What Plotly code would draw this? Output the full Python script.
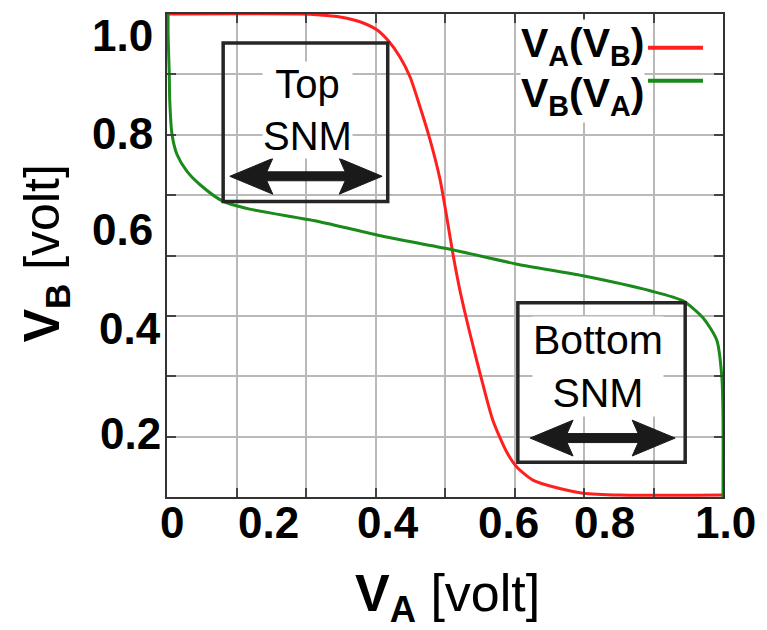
import plotly.graph_objects as go

# Butterfly curve of an SRAM cell: two cross-coupled inverter transfer curves
# Red: V_A as a function of V_B
vb_red = [1.000, 1.000, 0.998, 0.994, 0.984, 0.967, 0.946, 0.911, 0.870, 0.808, 0.740,
          0.658, 0.567, 0.505, 0.427, 0.338, 0.256, 0.159, 0.091, 0.062, 0.035, 0.019,
          0.008, 0.004, 0.004]
va_red = [0.000, 0.239, 0.275, 0.311, 0.347, 0.378, 0.397, 0.419, 0.437, 0.455, 0.473,
          0.491, 0.505, 0.514, 0.527, 0.545, 0.563, 0.586, 0.612, 0.629, 0.658, 0.701,
          0.748, 0.815, 1.000]

# Green: V_B as a function of V_A
va_green = [0.002, 0.002, 0.004, 0.005, 0.009, 0.018, 0.036, 0.059, 0.101, 0.149, 0.270,
            0.388, 0.509, 0.630, 0.748, 0.869, 0.928, 0.964, 0.989, 0.998, 1.000, 1.000]
vb_green = [1.000, 0.957, 0.880, 0.819, 0.751, 0.709, 0.674, 0.647, 0.612, 0.596, 0.571,
            0.540, 0.513, 0.482, 0.458, 0.427, 0.406, 0.371, 0.324, 0.247, 0.165, 0.000]

x_tick_text = ["0", "0.2", "0.4", "0.6", "0.8", "1.0"]
y_tick_text = ["1.0", "0.8", "0.6", "0.4", "0.2"]

# label placement (paper units)
x_tick_pos = [0.009, 0.183, 0.398, 0.614, 0.786, 1.005]
y_tick_pos = [0.955, 0.753, 0.553, 0.348, 0.132]
y_tick_right = [-0.022, -0.022, -0.022, -0.008, -0.008]

RED = "#ff1f1f"
GREEN = "#1a8a1a"
DARK = "#262626"
FONT = "Liberation Sans, Arial, sans-serif"

fig = go.Figure()
fig.add_trace(go.Scatter(x=va_red, y=vb_red, mode="lines", name="V_A(V_B)",
                         line=dict(color=RED, width=3, shape="spline", smoothing=0.7)))
fig.add_trace(go.Scatter(x=va_green, y=vb_green, mode="lines", name="V_B(V_A)",
                         line=dict(color=GREEN, width=3, shape="spline", smoothing=0.7)))

axis_common = dict(range=[0, 1], tick0=0, dtick=0.125, showgrid=True,
                   gridcolor="#b9b9b9", gridwidth=1.5, zeroline=False,
                   showline=True, linecolor="#333333", linewidth=2, mirror="ticks",
                   ticks="inside", ticklen=9, tickwidth=1.5, tickcolor="#444444",
                   showticklabels=False, fixedrange=True)

fig.update_layout(width=767, height=630, margin=dict(l=167, r=44, t=12, b=133),
                  paper_bgcolor="white", plot_bgcolor="white", showlegend=False,
                  xaxis=axis_common, yaxis=axis_common)

shapes = []
annotations = []

# tick labels
for txt, xp in zip(x_tick_text, x_tick_pos):
    annotations.append(dict(x=xp, y=-0.053, xref="paper", yref="paper", text=f"<b>{txt}</b>",
                            showarrow=False, xanchor="center", yanchor="middle",
                            font=dict(family=FONT, size=44, color="black")))
for txt, yp, xr in zip(y_tick_text, y_tick_pos, y_tick_right):
    annotations.append(dict(x=xr, y=yp, xref="paper", yref="paper", text=f"<b>{txt}</b>",
                            showarrow=False, xanchor="right", yanchor="middle",
                            font=dict(family=FONT, size=44, color="black")))

# axis titles
annotations.append(dict(x=0.505, y=-0.207, xref="paper", yref="paper",
                        text="<b>V<sub>A</sub></b> [volt]", showarrow=False,
                        xanchor="center", yanchor="middle",
                        font=dict(family=FONT, size=52, color="black")))
annotations.append(dict(x=-0.219, y=0.505, xref="paper", yref="paper",
                        text="<b>V<sub>B</sub></b> [volt]", showarrow=False, textangle=-90,
                        xanchor="center", yanchor="middle",
                        font=dict(family=FONT, size=50, color="black")))

# legend drawn with text on the left and the line sample on the right
annotations.append(dict(x=0.635, y=0.933, xref="x", yref="y",
                        text="<b>V<sub>A</sub>(V<sub>B</sub>)</b>", showarrow=False,
                        xanchor="left", yanchor="middle", bgcolor="white", borderpad=0,
                        font=dict(family=FONT, size=41, color="black")))
annotations.append(dict(x=0.635, y=0.830, xref="x", yref="y",
                        text="<b>V<sub>B</sub>(V<sub>A</sub>)</b>", showarrow=False,
                        xanchor="left", yanchor="middle", bgcolor="white", borderpad=0,
                        font=dict(family=FONT, size=41, color="black")))
shapes.append(dict(type="line", xref="x", yref="y", x0=0.865, x1=0.964, y0=0.930, y1=0.930,
                   line=dict(color=RED, width=4)))
shapes.append(dict(type="line", xref="x", yref="y", x0=0.865, x1=0.964, y0=0.862, y1=0.862,
                   line=dict(color=GREEN, width=4)))


def arrow_path(x0, x1, yc):
    """Double-headed block arrow in axis units (x: 556 px, y: 485 px per unit)."""
    sh = 4.5 / 485
    hl = 43 / 556
    hh = 18 / 485
    notch = 6 / 556
    pts = [(x0, yc), (x0 + hl, yc + hh), (x0 + hl - notch, yc + sh),
           (x1 - hl + notch, yc + sh), (x1 - hl, yc + hh), (x1, yc),
           (x1 - hl, yc - hh), (x1 - hl + notch, yc - sh),
           (x0 + hl - notch, yc - sh), (x0 + hl, yc - hh)]
    return "M " + " L ".join(f"{x:.4f},{y:.4f}" for x, y in pts) + " Z"


# noise-margin boxes
for (bx0, bx1, by0, by1), (ax0, ax1, ayc), (label, tx, ty, fs) in [
    ((0.101, 0.397, 0.612, 0.940), (0.113, 0.387, 0.664), ("Top<br>SNM", 0.252, 0.802, 40)),
    ((0.631, 0.932, 0.072, 0.402), (0.653, 0.914, 0.122), ("Bottom<br>SNM", 0.775, 0.270, 41)),
]:
    shapes.append(dict(type="rect", xref="x", yref="y", x0=bx0, x1=bx1, y0=by0, y1=by1,
                       line=dict(color=DARK, width=3.5), fillcolor="rgba(0,0,0,0)"))
    shapes.append(dict(type="path", xref="x", yref="y", path=arrow_path(ax0, ax1, ayc),
                       fillcolor="#1a1a1a", line=dict(color="#1a1a1a", width=1)))
    annotations.append(dict(x=tx, y=ty, xref="x", yref="y", text=label, showarrow=False,
                            xanchor="center", yanchor="middle", bgcolor="white", borderpad=0,
                            font=dict(family=FONT, size=fs, color="black")))

fig.update_layout(shapes=shapes, annotations=annotations)
fig.write_html("out.html")
